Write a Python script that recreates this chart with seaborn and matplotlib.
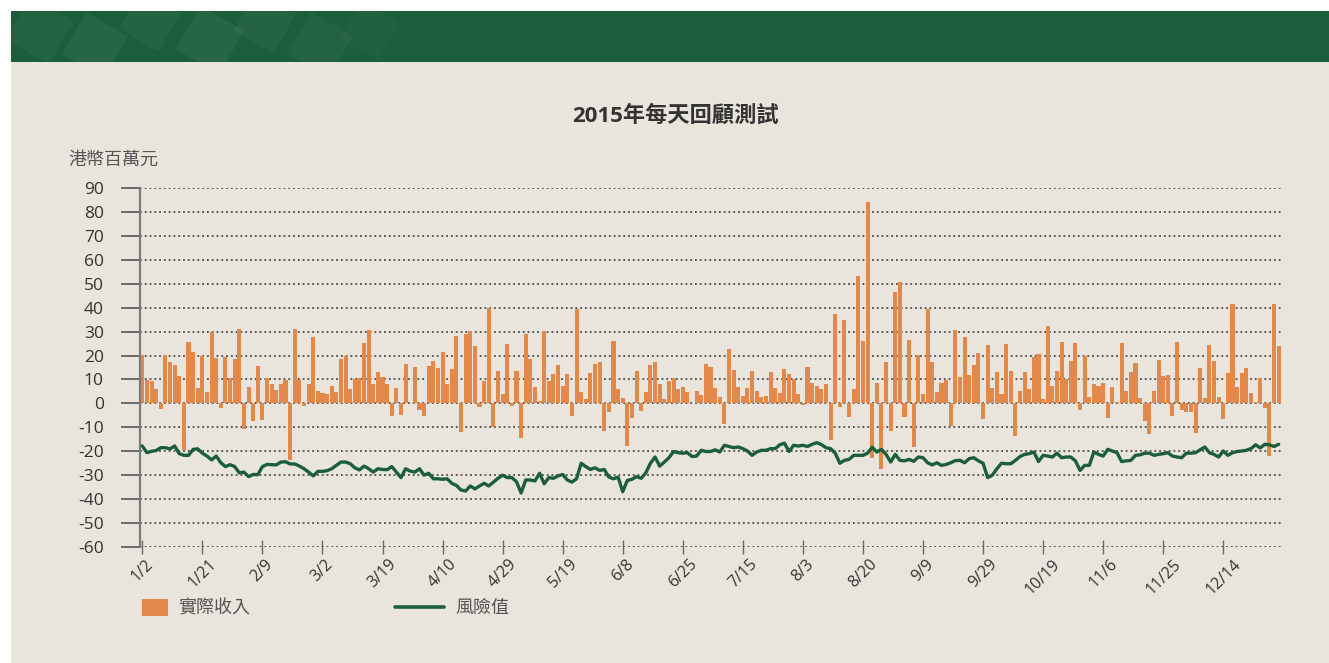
import matplotlib
matplotlib.use("Agg")
import matplotlib.pyplot as plt
from matplotlib.patches import Rectangle, Polygon, Patch
from matplotlib.lines import Line2D
import seaborn as sns
import numpy as np
import pandas as pd

# daily actual revenue (HK$ million), one value per 2015 trading day
revenue = [
    20.4, 9.8, 9.5, 6, -2.2, 20.3, 17.3, 16, 11.5, -19.4, 25.7, 21.5, 6.4, 19.9, 4.8, 30, 19, -1.8, 19.4, 10.6,
    18.6, 31.2, -10.6, 6.9, -7.3, 15.7, -6.9, 10.6, 8.1, 5.6, 8.1, 9.8, -23.6, 31.2, 9.8, -1, 8.1, 27.8, 5.2, 4.3,
    3.9, 7.3, 4.8, 18.6, 19.9, 6, 10.2, 10.6, 25.3, 30.8, 8.1, 13.1, 11, 8.1, -5.2, 6.4, -4.8, 16.5, 0.3, 15.2,
    -2.7, -5.2, 15.7, 17.8, 14.8, 21.5, 8.1, 14.4, 28.3, -11.9, 29.1, 30.3, 24.1, -1.4, 9.4, 40, -9.8, 13.6, 3.9, 24.9,
    -1, 13.6, -14.4, 29.1, 18.6, 6.9, 1, 30.3, 9.4, 12.3, 16.1, 7.3, 12.3, -5.2, 39.6, 4.8, 1.8, 12.7, 16.5, 17.3,
    -11.5, -3.5, 26.2, 6, 2.2, -17.8, -6, 13.6, -3.1, 4.8, 16.1, 17.3, 8.1, 1.8, 9.4, 10.6, 6, 6.9, 4.8, 0.3,
    5.2, 3.5, 16.5, 15.2, 6.4, 2.7, -8.5, 22.8, 14, 6.9, 3.1, 6.4, 13.6, 5.2, 2.7, 3.1, 13.1, 6.4, 4.3, 14.4,
    12.3, 10.2, 3.9, -0.5, 15.2, 8.5, 7.3, 6, 8.1, -15.2, 37.5, -1.4, 35, -5.6, 6, 53.4, 26.2, 84, -22.8, 8.5,
    -27.4, 17.3, -11.5, 46.7, 50.9, -5.6, 26.6, -18.2, 20.3, 3.9, 39.6, 17.3, 4.8, 8.5, 9.8, -9.4, 30.8, 11, 27.8, 11.9,
    16.1, 21.1, -6.4, 24.5, 6.4, 13.1, 3.9, 24.9, 13.6, -13.6, 5.2, 13.1, 6, 19.4, 20.7, 1.8, 32.4, 7.3, 13.6, 25.7,
    10.2, 17.8, 25.3, -2.7, 19.9, 2.7, 8.1, 7.3, 8.5, -6, 6.9, 0.6, 25.3, 5.2, 13.1, 16.9, 2.2, -7.3, -12.7, 5.2,
    18.2, 11.5, 11.9, -5.2, 25.7, -2.7, -3.5, -3.5, -12.3, 14.8, 2.2, 24.5, 17.8, 2.7, -6.4, 12.7, 41.7, 6.9, 12.7, 14.8,
    4.3, 0.6, 10.6, -1.8, -22, 41.7, 24.1,
]

# value at risk, same trading days
var_values = [
    -17.8, -20.6, -20, -19.7, -18.5, -18.5, -19, -17.8, -21, -21.7, -21.7, -19.2, -19, -20.8, -22, -23.6, -22, -24.8, -26.4, -25.6,
    -26.4, -29, -28.7, -30.6, -29.7, -29.8, -26.4, -25.5, -25.6, -25.7, -24.5, -24.4, -25.3, -25.3, -26.2, -27.3, -28.7, -30.3, -28.4, -28.4,
    -28.1, -27.3, -25.9, -24.5, -24.5, -25.2, -26.9, -27.8, -26.2, -27.3, -28.7, -27.3, -27.6, -27.7, -26.4, -28.7, -31, -27.3, -28.3, -28.7,
    -27.3, -30, -29.2, -31.5, -31.5, -31.7, -31.5, -33.4, -34.3, -36.2, -36.6, -34.5, -35.7, -34.5, -33.4, -34.5, -32.9, -31.3, -30, -31,
    -31, -32.7, -37.4, -32, -32, -32.4, -29.2, -33.6, -31, -31.3, -30.3, -29.7, -32, -32.9, -31.5, -25, -26.4, -27.6, -26.9, -28,
    -27.6, -30.8, -31.5, -30.8, -36.9, -32.2, -31.7, -30.6, -31.3, -29, -25, -22.4, -26.2, -24.5, -22.7, -20.1, -20.6, -20.8, -20.6, -22.2,
    -22, -19.6, -20.1, -20.1, -19.4, -20.3, -17.5, -18, -18.5, -18.2, -18.9, -19.9, -21.7, -20.3, -19.6, -19.6, -18.9, -18.9, -17.3, -16.6,
    -20.1, -17.5, -17.8, -17.5, -18, -17.1, -16.4, -17.2, -18.5, -18.9, -20.8, -25, -23.8, -23.4, -21.7, -21.7, -21.7, -20.8, -18.3, -20.3,
    -19.2, -21.3, -24.5, -21.3, -23.8, -24, -23.4, -24.2, -22.4, -22.7, -24.8, -25.7, -24.8, -25.9, -25.5, -24.8, -23.9, -23.8, -24.8, -23.1,
    -22.7, -24, -25, -31, -30, -27.3, -25, -25.2, -25.2, -23.8, -22.2, -21.3, -21, -20.3, -24.3, -21.7, -22, -22.4, -20.8, -22.7,
    -22.4, -22.4, -24, -28, -25.9, -25.9, -20.3, -21.3, -22, -19.2, -19.9, -20.6, -24.3, -24, -23.8, -21.7, -21.5, -20.8, -20.8, -21.7,
    -21.3, -21, -20.6, -22, -22.4, -22.7, -20.8, -20.8, -20.6, -19.4, -18.2, -20.6, -21.3, -22.4, -19.9, -21.7, -20.6, -20.1, -19.9, -19.6,
    -18.9, -17.3, -18.6, -17.1, -17.3, -18, -17.1,
]

# x tick labels, one every 13 trading days
tick_labels = ["1/2", "1/21", "2/9", "3/2", "3/19", "4/10", "4/29", "5/19", "6/8", "6/25",
               "7/15", "8/3", "8/20", "9/9", "9/29", "10/19", "11/6", "11/25", "12/14"]
tick_step = 13

ORANGE = "#E2884A"
GREEN = "#1B5E3B"
BEIGE = "#E9E5DC"
HEADER = "#1C5E3C"

df = pd.DataFrame({"day": np.arange(len(revenue)), "revenue": revenue, "var": var_values})

sns.set_theme(style="white")
plt.rcParams["font.family"] = ["Open Sans", "Noto Sans CJK TC", "DejaVu Sans"]
plt.rcParams["axes.unicode_minus"] = False

W, H = 1329, 663
fig = plt.figure(figsize=(W / 100, H / 100), dpi=100, facecolor="white")

# panel background and green header band
fig.add_artist(Rectangle((11 / W, 0), 1 - 11 / W, 1 - 62 / H, transform=fig.transFigure,
                         facecolor=BEIGE, edgecolor="none", zorder=-10))
header = Rectangle((11 / W, 1 - 62 / H), 1 - 11 / W, 51 / H, transform=fig.transFigure,
                   facecolor=HEADER, edgecolor="none", zorder=-9)
fig.add_artist(header)

# faint diagonal squares in the header
def px_poly(cx, cy, s, ang):
    a = np.deg2rad(ang)
    pts = []
    for dx, dy in [(-1, -1), (1, -1), (1, 1), (-1, 1)]:
        x = cx + s / 2 * (dx * np.cos(a) - dy * np.sin(a))
        y = cy + s / 2 * (dx * np.sin(a) + dy * np.cos(a))
        pts.append((x / W, 1 - y / H))
    return pts

for cx, cy, s, al in [(40, 30, 50, 0.03), (95, 45, 48, 0.05), (150, 20, 46, 0.04), (210, 40, 50, 0.05),
                      (265, 22, 46, 0.04), (320, 45, 48, 0.035), (370, 30, 44, 0.025)]:
    p = Polygon(px_poly(cx, cy, s, 30), closed=True, transform=fig.transFigure,
                facecolor="white", alpha=al, edgecolor="none", zorder=-8)
    fig.add_artist(p)
    p.set_clip_path(header)

ax = fig.add_axes([140 / W, 1 - 547 / H, (1281 - 140) / W, (547 - 188) / H])
ax.set_facecolor("none")

sns.barplot(data=df, x="day", y="revenue", color=ORANGE, saturation=1, width=0.88,
            errorbar=None, ax=ax, zorder=2, linewidth=0, edgecolor="none")
sns.lineplot(data=df, x="day", y="var", color=GREEN, linewidth=2.4, ax=ax, zorder=3, legend=False)

ax.set_xlim(-0.5, len(revenue) - 0.5)
ax.set_ylim(-60, 90)
ax.set_yticks(np.arange(-60, 91, 10))
ax.set_xticks(np.arange(0, len(tick_labels) * tick_step, tick_step))
ax.set_xticklabels(tick_labels, rotation=45, ha="center")
ax.set_xlabel("")
ax.set_ylabel("")

ax.set_axisbelow(True)
ax.yaxis.grid(True, linestyle=":", linewidth=1.3, color="#4a4a4a")
ax.xaxis.grid(False)

for side in ["top", "right", "bottom"]:
    ax.spines[side].set_visible(False)
ax.spines["left"].set_color("#7a7a7a")
ax.spines["left"].set_linewidth(1.6)

ax.tick_params(axis="y", direction="out", length=14, width=1.4, color="#6a6a6a",
               pad=12, labelsize=12.5, labelcolor="#333333", left=True)
ax.tick_params(axis="x", direction="inout", length=9.5, width=1, color="#6a6a6a",
               pad=2, labelsize=11.5, labelcolor="#333333", bottom=True)

fig.text(675 / W, 1 - 116 / H, "2015年每天回顧測試", fontsize=16, fontweight="bold",
         color="#333333", ha="center", va="center")
fig.text(68 / W, 1 - 160 / H, "港幣百萬元", fontsize=13, color="#555555", ha="left", va="center")

leg1 = ax.legend(handles=[Patch(facecolor=ORANGE, edgecolor="none", label="實際收入")],
                 loc="center left", bbox_to_anchor=(142 / W, 1 - 608 / H), bbox_transform=fig.transFigure,
                 frameon=False, fontsize=13, handlelength=1.45, handleheight=1.1,
                 handletextpad=0.55, borderpad=0, borderaxespad=0, labelcolor="#555555")
ax.add_artist(leg1)
ax.legend(handles=[Line2D([0], [0], color=GREEN, linewidth=2.6, label="風險值")],
          loc="center left", bbox_to_anchor=(395 / W, 1 - 608 / H), bbox_transform=fig.transFigure,
          frameon=False, fontsize=13, handlelength=2.7, handletextpad=0.65,
          borderpad=0, borderaxespad=0, labelcolor="#555555")

fig.savefig("out.png", dpi=100, facecolor=fig.get_facecolor())
